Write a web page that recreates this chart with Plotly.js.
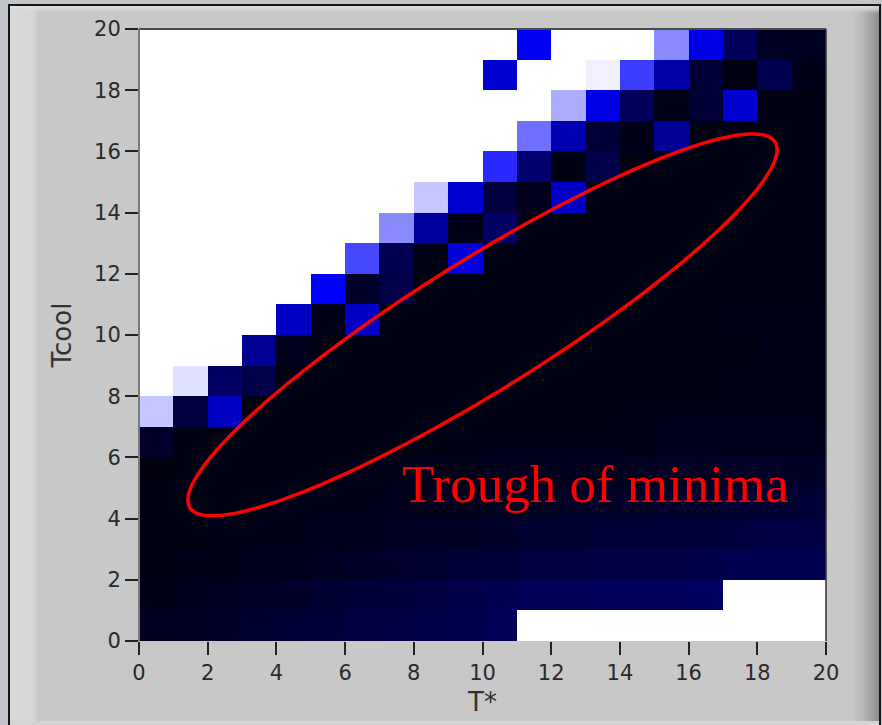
<!DOCTYPE html>
<html>
<head>
<meta charset="utf-8">
<script src="https://cdn.plot.ly/plotly-3.0.1.min.js"></script>
<style>
  html, body { margin: 0; padding: 0; width: 882px; height: 725px; overflow: hidden; background: rgb(193,197,202); }
  #frame {
    position: absolute; left: 8px; top: 4px; width: 869px; height: 721px;
    border-left: 2px solid #151515; border-top: 2px solid #151515; border-right: 2px solid #151515;
    background:
      linear-gradient(to bottom, rgba(225,225,225,0.9) 0px, rgba(215,215,215,0.6) 4px, rgba(200,200,200,0) 7px),
      linear-gradient(to right, #d9d9d9 0px, #d6d6d6 24px, #c8c8c8 28px, #c8c8c8 calc(100% - 28px), #b8b8b8 calc(100% - 16px), #999 calc(100% - 4px), #8a8a8a 100%);
  }
  #bottomband { position: absolute; left: 10px; top: 721px; width: 869px; height: 4px; background: #d4d4d4; }
  #plot { position: absolute; left: 0; top: 0; width: 882px; height: 725px; }
</style>
</head>
<body>
<div id="frame"></div>
<div id="bottomband"></div>
<div id="plot"></div>
<script>
// Cell centres along T* (x) and Tcool (y)
const tStar = [0.5,1.5,2.5,3.5,4.5,5.5,6.5,7.5,8.5,9.5,10.5,11.5,12.5,13.5,14.5,15.5,16.5,17.5,18.5,19.5];
const tCool = [0.5,1.5,2.5,3.5,4.5,5.5,6.5,7.5,8.5,9.5,10.5,11.5,12.5,13.5,14.5,15.5,16.5,17.5,18.5,19.5];
const xTicks = [0,2,4,6,8,10,12,14,16,18,20];
const yTicks = [0,2,4,6,8,10,12,14,16,18,20];

// Relative cost per cell (0 = black, 50 = blue, 100 = white), one row per Tcool cell (bottom to top)
const row00 = [4,5,6,7,8,9,10,11,12,13,15,100,100,100,100,100,100,100,100,100];
const row01 = [2,3,4,5,6,7,8,9,10,12,14,15,15,16,16,16,17,100,100,100];
const row02 = [1,2,2,3,3,4,5,6,7,8,9,10,10,11,11,11,12,14,14,14];
const row03 = [1,1,2,2,2,3,3,4,5,5,6,7,7,8,8,9,9,10,11,11];
const row04 = [1,1,1,1,2,2,2,3,3,3,4,4,5,5,5,6,6,7,7,8];
const row05 = [0,1,1,1,1,1,2,2,2,2,3,3,3,3,4,4,4,5,5,5];
const row06 = [6,1,1,1,1,1,1,1,1,2,2,2,2,2,2,3,3,3,3,3];
const row07 = [89,10,37,1,1,1,1,1,1,1,1,1,1,1,2,2,2,2,2,2];
const row08 = [100,94,18,12,1,1,1,1,1,1,1,1,1,1,1,1,1,2,2,2];
const row09 = [100,100,100,28,3,1,1,1,1,1,1,1,1,1,1,1,1,1,2,2];
const row10 = [100,100,100,100,38,2,38,1,1,1,1,1,1,1,1,1,1,2,2,2];
const row11 = [100,100,100,100,100,50,6,12,1,1,1,1,1,1,1,1,1,1,1,1];
const row12 = [100,100,100,100,100,100,64,14,1,42,1,1,1,1,1,1,1,1,1,1];
const row13 = [100,100,100,100,100,100,100,77,30,2,18,1,1,1,1,1,1,1,1,1];
const row14 = [100,100,100,100,100,100,100,100,89,40,10,3,38,1,1,1,1,1,1,1];
const row15 = [100,100,100,100,100,100,100,100,100,100,58,20,1,12,1,1,1,1,1,1];
const row16 = [100,100,100,100,100,100,100,100,100,100,100,72,34,8,2,28,1,1,1,1];
const row17 = [100,100,100,100,100,100,100,100,100,100,100,100,84,45,16,2,8,40,1,1];
const row18 = [100,100,100,100,100,100,100,100,100,100,40,100,100,97,62,32,8,1,14,2];
const row19 = [100,100,100,100,100,100,100,100,100,100,100,48,100,100,100,77,45,16,4,4];
const costRows = [row00,row01,row02,row03,row04,row05,row06,row07,row08,row09,row10,
                  row11,row12,row13,row14,row15,row16,row17,row18,row19];

const annotationText = "Trough of minima";

const W = 882, H = 725;
const M = {l: 139, r: 56, t: 29, b: 84};
const pxX = (W - M.l - M.r) / 20;
const pxY = (H - M.t - M.b) / 20;

// Ellipse outline (pixel-space geometry converted to data units)
const ell = {cx: 10.0, cy: 10.33, a: 345, b: 65, deg: 32};
function ellipsePath(e) {
  const th = e.deg * Math.PI / 180;
  let p = '';
  for (let i = 0; i <= 180; i++) {
    const t = 2 * Math.PI * i / 180;
    const dx = e.a * Math.cos(t) * Math.cos(th) - e.b * Math.sin(t) * Math.sin(th);
    const dy = e.a * Math.cos(t) * Math.sin(th) + e.b * Math.sin(t) * Math.cos(th);
    const x = e.cx + dx / pxX, y = e.cy + dy / pxY;
    p += (i === 0 ? 'M' : 'L') + x.toFixed(4) + ',' + y.toFixed(4);
  }
  return p + 'Z';
}

const trace = {
  type: 'heatmap',
  x: tStar, y: tCool, z: costRows,
  zmin: 0, zmax: 100,
  colorscale: [[0, 'rgb(0,0,14)'], [0.5, 'rgb(0,0,255)'], [1, 'rgb(255,255,255)']],
  showscale: false,
  hoverinfo: 'skip'
};

const tickFont = {family: 'DejaVu Sans', size: 21, color: '#2a2a2a'};
const titleFont = {family: 'DejaVu Sans', size: 26, color: '#333'};

const layout = {
  width: W, height: H,
  margin: M,
  paper_bgcolor: 'rgba(0,0,0,0)',
  plot_bgcolor: 'rgba(0,0,0,0)',
  showlegend: false,
  xaxis: {
    range: [0, 20], tickvals: xTicks, ticktext: xTicks.map(String),
    ticks: 'outside', ticklen: 13, tickwidth: 2, tickcolor: '#222',
    tickfont: tickFont, showgrid: false, zeroline: false, showline: false,
    title: {text: 'T*', font: titleFont, standoff: 8}
  },
  yaxis: {
    range: [0, 20], tickvals: yTicks, ticktext: yTicks.map(String),
    ticks: 'outside', ticklen: 13, tickwidth: 2, tickcolor: '#222',
    tickfont: tickFont, showgrid: false, zeroline: false, showline: false,
    title: {text: 'Tcool', font: titleFont, standoff: 14}
  },
  shapes: [
    {type: 'line', xref: 'paper', yref: 'paper', x0: 0, x1: 1, y0: 1, y1: 1, line: {color: '#4a4a4a', width: 2}},
    {type: 'line', xref: 'paper', yref: 'paper', x0: 0, x1: 0, y0: 0, y1: 1, line: {color: '#7a7a7a', width: 2}},
    {type: 'line', xref: 'paper', yref: 'paper', x0: 1, x1: 1, y0: 0, y1: 1, line: {color: '#333', width: 1.5}},
    {type: 'path', xref: 'x', yref: 'y', path: ellipsePath(ell), line: {color: '#ff0000', width: 3.5}, fillcolor: 'rgba(0,0,0,0)'}
  ],
  annotations: [
    {text: annotationText, xref: 'x', yref: 'y', x: 7.6, y: 5.13, xanchor: 'left', yanchor: 'middle',
     showarrow: false, font: {family: 'Liberation Serif', size: 53, color: '#ff0000'}}
  ]
};

Plotly.newPlot('plot', [trace], layout, {staticPlot: true, displayModeBar: false});
</script>
</body>
</html>
